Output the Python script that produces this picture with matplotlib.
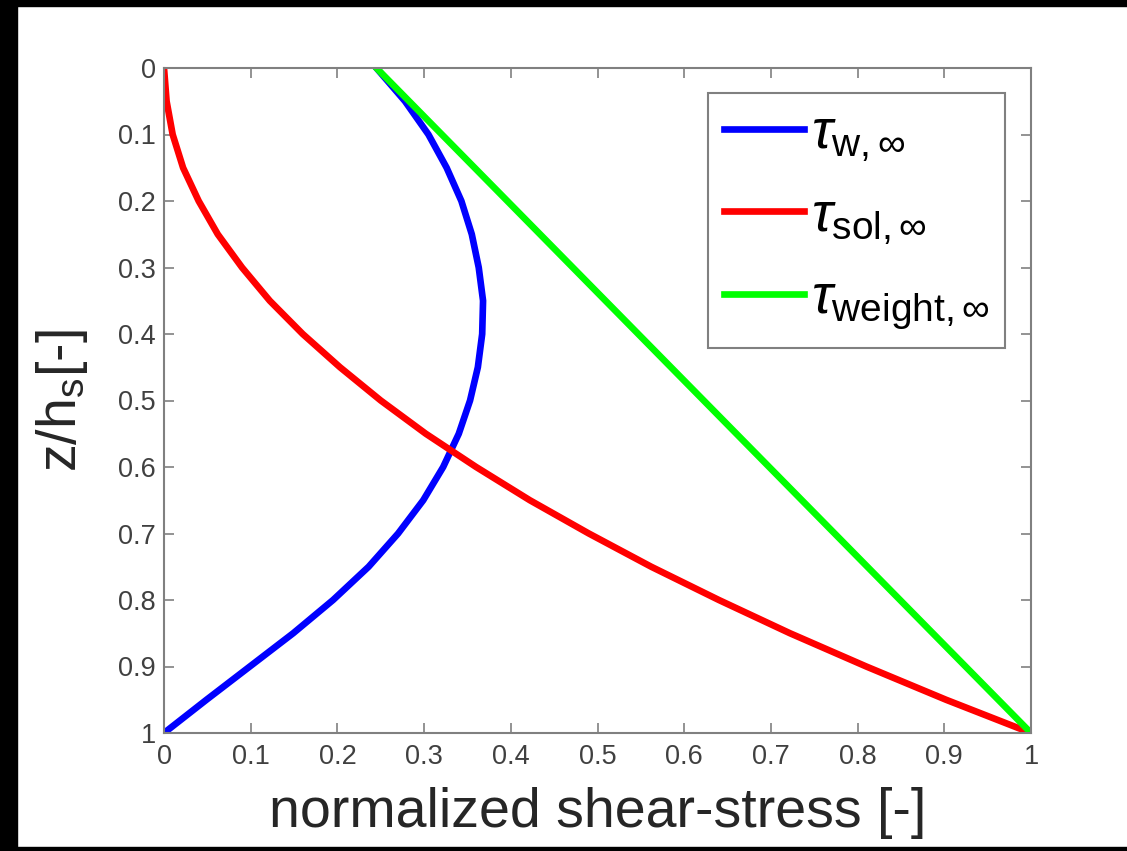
import matplotlib
matplotlib.use("Agg")
import matplotlib.pyplot as plt
from matplotlib.patches import Rectangle

plt.rcParams.update({
    "font.family": "Liberation Sans",
    "mathtext.fontset": "custom",
    "mathtext.rm": "Liberation Sans",
    "mathtext.it": "Liberation Sans:italic",
    "mathtext.sf": "Liberation Sans",
})

# depth z/h_s, every 0.05
z = [0.0, 0.05, 0.1, 0.15, 0.2, 0.25, 0.3, 0.35, 0.4, 0.45, 0.5,
     0.55, 0.6, 0.65, 0.7, 0.75, 0.8, 0.85, 0.9, 0.95, 1.0]
tau_w = [0.245, 0.278, 0.305, 0.326, 0.343, 0.355, 0.363, 0.368, 0.367, 0.362, 0.353,
         0.340, 0.322, 0.299, 0.270, 0.236, 0.195, 0.149, 0.099, 0.049, 0.0]
tau_sol = [0.0, 0.003, 0.01, 0.022, 0.04, 0.062, 0.09, 0.122, 0.16, 0.203, 0.25,
           0.302, 0.36, 0.422, 0.49, 0.562, 0.64, 0.722, 0.81, 0.902, 1.0]
z_weight = [0.0, 1.0]
tau_weight = [0.245, 1.0]

xticks = [0, 0.1, 0.2, 0.3, 0.4, 0.5, 0.6, 0.7, 0.8, 0.9, 1]
xticklabels = ["0", "0.1", "0.2", "0.3", "0.4", "0.5", "0.6", "0.7", "0.8", "0.9", "1"]

AX_GREY = "#808080"
TXT_GREY = "#404040"

fig = plt.figure(figsize=(11.27, 8.51), dpi=100)
ax = fig.add_axes([164 / 1127, 1 - 733 / 851, 867 / 1127, 665 / 851])

ax.plot(tau_w, z, color="#0000ff", lw=4.8, label=r"$\tau_{\mathrm{w},\infty}$")
ax.plot(tau_sol, z, color="#ff0000", lw=4.8, label=r"$\tau_{\mathrm{sol},\infty}$")
ax.plot(tau_weight, z_weight, color="#00ff00", lw=4.8, label=r"$\tau_{\mathrm{weight},\infty}$")

ax.set_xlim(0, 1)
ax.set_ylim(1, 0)
ax.set_xticks(xticks)
ax.set_xticklabels(xticklabels)
ax.set_yticks(xticks)
ax.set_yticklabels(xticklabels)
ax.tick_params(direction="in", length=7, width=1.2, color=AX_GREY,
               labelcolor=TXT_GREY, labelsize=19.5, top=True, right=True)
ax.tick_params(axis="x", pad=8)
ax.tick_params(axis="y", pad=6)
for s in ax.spines.values():
    s.set_color(AX_GREY)
    s.set_linewidth(1.5)

ax.set_xlabel("normalized shear-stress [-]", fontsize=40, color="#262626", labelpad=12)
ax.set_ylabel(r"z/h$_\mathrm{s}$[-]", fontsize=40, color="#262626")
ax.yaxis.set_label_coords(-0.085, 0.5)

leg = ax.legend(loc="upper right", bbox_to_anchor=(1005 / 1127, 1 - 93 / 851),
                bbox_transform=fig.transFigure, borderaxespad=0, fontsize=40,
                handlelength=1.45, handletextpad=0.12, labelspacing=0.48,
                borderpad=0.28, fancybox=False, framealpha=1)
leg.get_frame().set_edgecolor(AX_GREY)
leg.get_frame().set_linewidth(1.5)

# black frame strips around the screenshot
for x0, y0, w, h in [(0, 1 - 6 / 851, 1, 6 / 851), (0, 0, 17 / 1127, 1), (0, 0, 1, 4 / 851)]:
    fig.patches.append(Rectangle((x0, y0), w, h, transform=fig.transFigure,
                                 color="black", zorder=10))

fig.savefig("out.png", dpi=100)
